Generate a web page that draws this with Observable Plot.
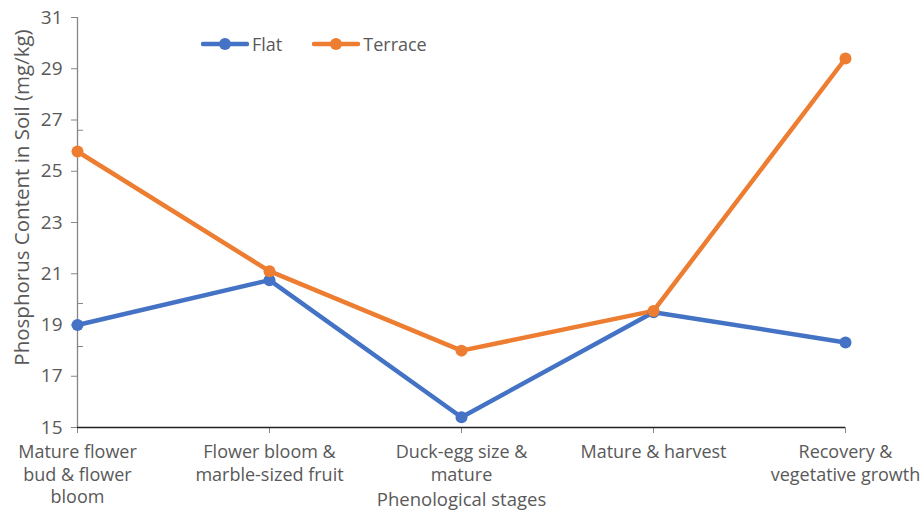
<!DOCTYPE html>
<html>
<head>
<meta charset="utf-8">
<script src="https://cdn.jsdelivr.net/npm/d3@7"></script>
<script src="https://cdn.jsdelivr.net/npm/@observablehq/plot@0.6"></script>
<style>
  html, body { margin: 0; padding: 0; background: #fff; }
  #wrap { position: relative; width: 921px; height: 511px; font-family: "Open Sans", sans-serif; }
  #legend { position: absolute; top: 32px; left: 201px; display: flex; gap: 30px; font-size: 18px; color: #595959; }
  #legend .item { display: flex; align-items: center; gap: 3px; }
</style>
</head>
<body>
<div id="wrap"><div id="legend"></div></div>
<script>
const stages = [
  "Mature flower\nbud & flower\nbloom",
  "Flower bloom &\nmarble-sized fruit",
  "Duck-egg size &\nmature",
  "Mature & harvest",
  "Recovery &\nvegetative growth"
];
const flat = [19.0, 20.75, 15.4, 19.5, 18.32];
const terrace = [25.77, 21.1, 18.0, 19.55, 29.4];
const yTicks = [15, 17, 19, 21, 23, 25, 27, 29, 31];
const extraTicks = [26.6, 19.84, 18.16];
const seriesNames = ["Flat", "Terrace"];
const seriesColors = ["#4472C4", "#ED7D31"];
const yTitle = "Phosphorus Content in Soil (mg/kg)";
const xTitle = "Phenological stages";

const rows = [];
stages.forEach((s, i) => {
  rows.push({stage: s, value: flat[i], series: seriesNames[0]});
});
stages.forEach((s, i) => {
  rows.push({stage: s, value: terrace[i], series: seriesNames[1]});
});

const font = '"Open Sans", sans-serif';

const chart = Plot.plot({
  width: 921,
  height: 511,
  marginLeft: 77,
  marginRight: 76,
  marginTop: 17,
  marginBottom: 84,
  style: {fontFamily: font, color: "#595959", background: "#fff", overflow: "visible"},
  x: {type: "point", domain: stages, padding: 0},
  y: {domain: [15, 31]},
  color: {domain: seriesNames, range: seriesColors},
  marks: [
    Plot.ruleX([stages[0]], {y1: 15, y2: 31, stroke: "#868686", strokeWidth: 1.3}),
    Plot.axisY({ticks: yTicks, tickSize: 6, tickPadding: 9, fontSize: 19, stroke: "#868686", label: null}),
    Plot.axisY({ticks: extraTicks, tickSize: -6, tickFormat: () => "", label: null, stroke: "#868686"}),
    Plot.axisX({tickSize: 6, tickPadding: 9, fontSize: 18, lineHeight: 1.25, stroke: "#868686", label: null}),
    Plot.text([yTitle], {frameAnchor: "left", textAnchor: "middle", rotate: -90, dx: -55, dy: -25, fontSize: 20.5, fill: "#595959"}),
    Plot.text([xTitle], {frameAnchor: "bottom", dy: 78, fontSize: 18.5, fill: "#595959"}),
    Plot.ruleY([15], {stroke: "#222", strokeWidth: 1.3}),
    Plot.line(rows, {x: "stage", y: "value", stroke: "series", z: "series", strokeWidth: 4.5}),
    Plot.dot(rows, {x: "stage", y: "value", fill: "series", r: 6})
  ]
});
document.getElementById("wrap").prepend(chart);

const legend = document.getElementById("legend");
seriesNames.forEach((n, i) => {
  const item = document.createElement("div");
  item.className = "item";
  item.innerHTML = `<svg width="48" height="14"><line x1="2" y1="7" x2="46" y2="7" stroke="${seriesColors[i]}" stroke-width="4.5" stroke-linecap="round"/><circle cx="24" cy="7" r="6" fill="${seriesColors[i]}"/></svg><span>${n}</span>`;
  legend.appendChild(item);
});
</script>
</body>
</html>
